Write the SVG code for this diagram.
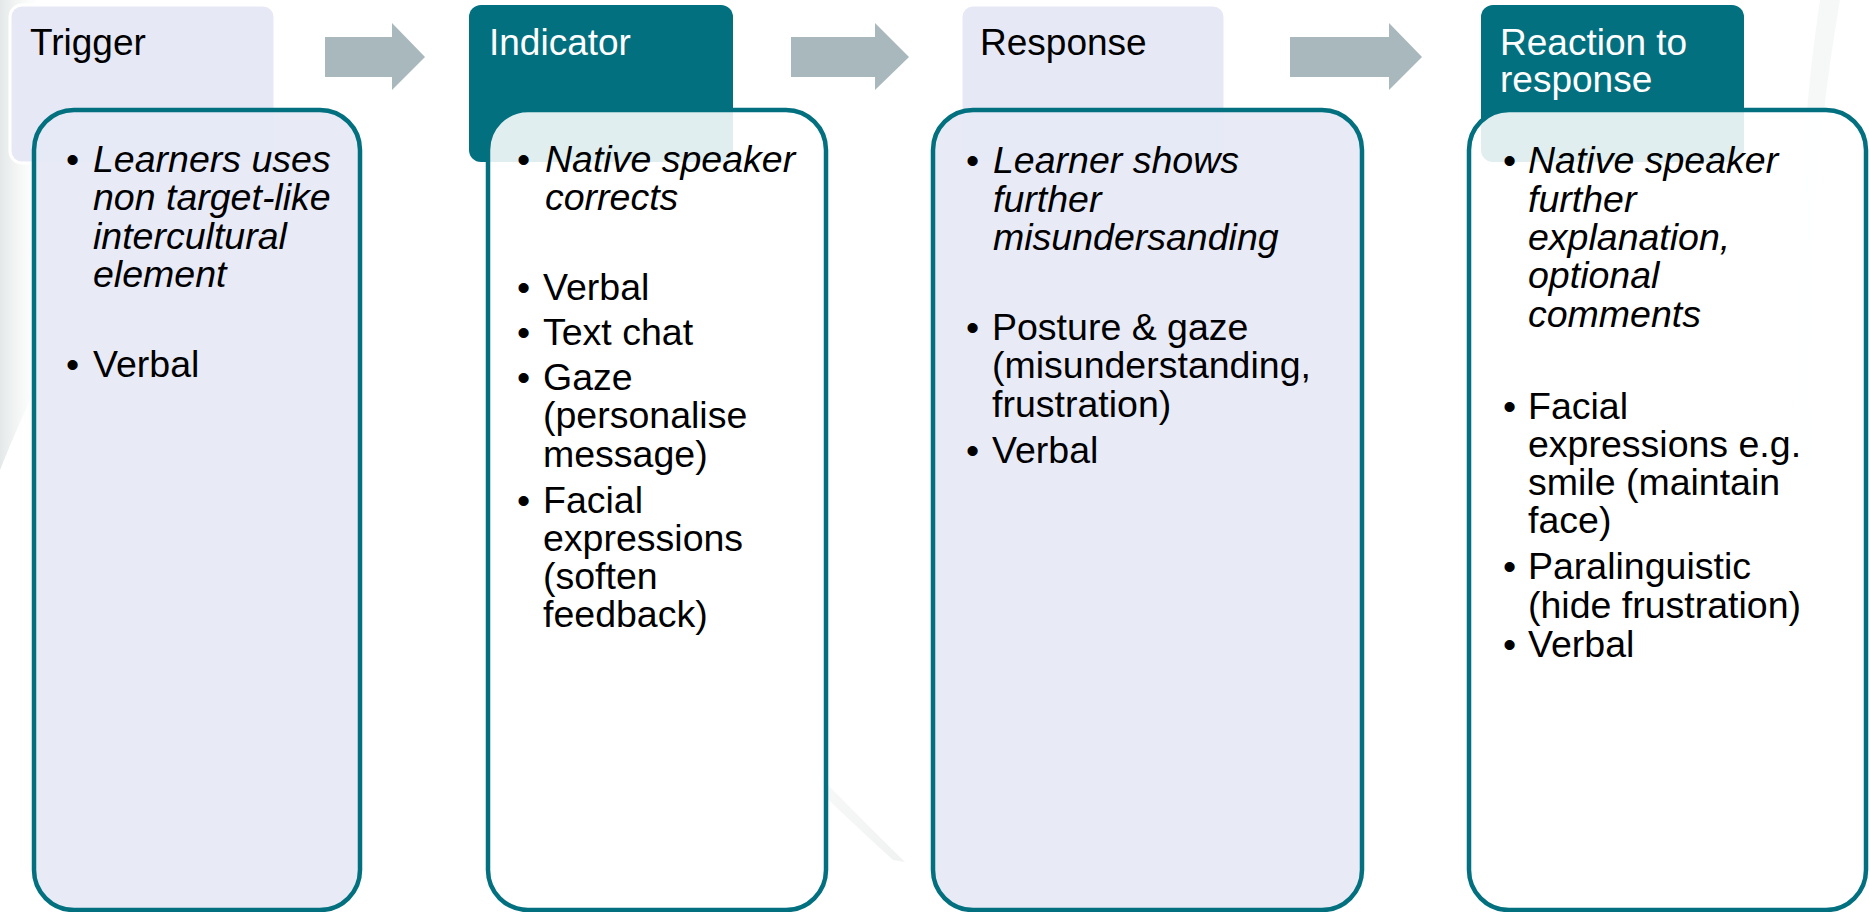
<svg xmlns="http://www.w3.org/2000/svg" width="1869" height="912" viewBox="0 0 1869 912">
<style>
.hdrL{fill:#E6E8F5;stroke:#FFFFFF;stroke-width:3}
.hdrD{fill:#03707F}
.bodyL{fill:#E6E8F5;fill-opacity:0.92;stroke:#03707F;stroke-width:4.5}
.bodyW{fill:#FFFFFF;fill-opacity:0.88;stroke:#03707F;stroke-width:4.5}
.arrow{fill:#A9B8BD}
text{font-family:"Liberation Sans",Arial,sans-serif;font-size:37.5px;fill:#000000}
.ht{fill:#000000;font-size:37px}
.htw{fill:#FFFFFF;font-size:37px}
.it{font-style:italic}
</style>
<defs>
<linearGradient id="leftbg" x1="0" y1="0" x2="1" y2="0">
<stop offset="0" stop-color="#E4E8E8"/>
<stop offset="1" stop-color="#F4F6F6" stop-opacity="0"/>
</linearGradient>
<linearGradient id="diag" x1="0" y1="0" x2="1" y2="1">
<stop offset="0" stop-color="#FFFFFF" stop-opacity="0"/>
<stop offset="1" stop-color="#E2E4E4"/>
</linearGradient>
</defs>
<rect width="1869" height="912" fill="#FFFFFF"/>
<g id="background">
<path d="M0,0 L40,0 L40,380 Q20,420 0,470 Z" fill="url(#leftbg)"/>
<path d="M600,540 Q760,720 905,862 L893,860 Q750,730 590,555 Z" fill="url(#diag)" opacity="0.5"/>
<path d="M1820,0 Q1790,200 1800,470 L1810,470 Q1802,220 1840,0 Z" fill="#EEF2F2" opacity="0.5"/>
</g>
<g id="connectors">
<polygon class="arrow" points="325,37 392,37 392,23 425,57 392,90 392,77 325,77"/>
<polygon class="arrow" points="791,37 875,37 875,23 909,57 875,90 875,77 791,77"/>
<polygon class="arrow" points="1290,37 1389,37 1389,23 1422,57 1389,90 1389,77 1290,77"/>
</g>
<g id="trigger">
<rect class="hdrL" x="10" y="5" width="265" height="158" rx="12"/>
<text class="ht" x="30" y="55">Trigger</text>
<rect class="bodyL" x="34" y="110" width="326" height="800" rx="40"/>
<text x="66" y="172">•</text>
<text class="it" x="93" y="172">Learners uses</text>
<text class="it" x="93" y="210">non target-like</text>
<text class="it" x="93" y="249">intercultural</text>
<text class="it" x="93" y="287">element</text>
<text x="66" y="377">•</text>
<text x="93" y="377">Verbal</text>
</g>
<g id="indicator">
<rect class="hdrD" x="469" y="5" width="264" height="157" rx="12"/>
<text class="htw" x="489" y="55">Indicator</text>
<rect class="bodyW" x="488" y="110" width="338" height="800" rx="40"/>
<text x="517" y="172">•</text>
<text class="it" x="545" y="172">Native speaker</text>
<text class="it" x="545" y="210">corrects</text>
<text x="517" y="300">•</text>
<text x="543" y="300">Verbal</text>
<text x="517" y="345">•</text>
<text x="543" y="345">Text chat</text>
<text x="517" y="390">•</text>
<text x="543" y="390">Gaze</text>
<text x="543" y="428">(personalise</text>
<text x="543" y="467">message)</text>
<text x="517" y="513">•</text>
<text x="543" y="513">Facial</text>
<text x="543" y="551">expressions</text>
<text x="543" y="589">(soften</text>
<text x="543" y="627">feedback)</text>
</g>
<g id="response">
<rect class="hdrL" x="961" y="5" width="264" height="157" rx="12"/>
<text class="ht" x="980" y="55">Response</text>
<rect class="bodyL" x="933" y="110" width="429" height="800" rx="40"/>
<text x="966" y="173">•</text>
<text class="it" x="993" y="173">Learner shows</text>
<text class="it" x="993" y="212">further</text>
<text class="it" x="993" y="250">misundersanding</text>
<text x="966" y="340">•</text>
<text x="992" y="340">Posture &amp; gaze</text>
<text x="992" y="378">(misunderstanding,</text>
<text x="992" y="417">frustration)</text>
<text x="966" y="463">•</text>
<text x="992" y="463">Verbal</text>
</g>
<g id="reaction">
<rect class="hdrD" x="1481" y="5" width="263" height="157" rx="12"/>
<text class="htw" x="1500" y="55">Reaction to</text>
<text class="htw" x="1500" y="92">response</text>
<rect class="bodyW" x="1469" y="110" width="397" height="800" rx="40"/>
<text x="1503" y="173">•</text>
<text class="it" x="1528" y="173">Native speaker</text>
<text class="it" x="1528" y="212">further</text>
<text class="it" x="1528" y="250">explanation,</text>
<text class="it" x="1528" y="288">optional</text>
<text class="it" x="1528" y="327">comments</text>
<text x="1503" y="419">•</text>
<text x="1528" y="419">Facial</text>
<text x="1528" y="457">expressions e.g.</text>
<text x="1528" y="495">smile (maintain</text>
<text x="1528" y="533">face)</text>
<text x="1503" y="579">•</text>
<text x="1528" y="579">Paralinguistic</text>
<text x="1528" y="618">(hide frustration)</text>
<text x="1503" y="657">•</text>
<text x="1528" y="657">Verbal</text>
</g>
</svg>
